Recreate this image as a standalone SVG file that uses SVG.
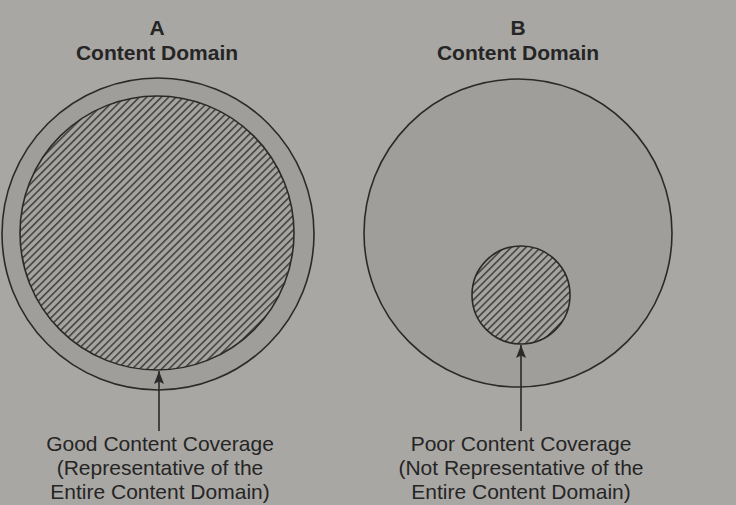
<svg xmlns="http://www.w3.org/2000/svg" width="736" height="505" viewBox="0 0 736 505">
<style>
.t{font-family:"Liberation Sans",Arial,sans-serif;fill:#252525;text-anchor:middle}
.h{font-size:21px;font-weight:bold}
.l{font-size:21px}
.c{stroke:#2a2a2a;stroke-width:1.6}
.a{stroke:#2a2a2a;stroke-width:1.6;fill:none}
</style>
<defs>
<pattern id="hatch" width="5.2" height="5.2" patternUnits="userSpaceOnUse" patternTransform="rotate(45)">
<rect width="5.2" height="5.2" fill="#a6a4a0"/>
<line x1="0.8" y1="0" x2="0.8" y2="5.2" stroke="#2e2e2e" stroke-width="1.3"/>
</pattern>
<marker id="arr" markerWidth="14" markerHeight="10" refX="13" refY="5" orient="auto" markerUnits="userSpaceOnUse" viewBox="0 0 14 10">
<path d="M13,5 L0,0 L2.5,5 L0,10 Z" fill="#2a2a2a"/>
</marker>
</defs>
<rect width="736" height="505" fill="#a9a7a3"/>
<g id="nodeA">
<text class="t h" x="157" y="35">A</text>
<text class="t h" x="157" y="60">Content Domain</text>
<circle class="c" cx="158" cy="234" r="156" fill="#a09e9a"/>
<circle class="c" cx="157" cy="233" r="137" fill="url(#hatch)"/>
</g>
<g id="nodeB">
<text class="t h" x="518" y="35">B</text>
<text class="t h" x="518" y="60">Content Domain</text>
<circle class="c" cx="518" cy="233" r="154" fill="#a09e9a"/>
<circle class="c" cx="521" cy="295" r="49" fill="url(#hatch)"/>
</g>
<g id="labelA">
<text class="t l" x="160" y="451">Good Content Coverage</text>
<text class="t l" x="160" y="475">(Representative of the</text>
<text class="t l" x="160" y="499">Entire Content Domain)</text>
</g>
<g id="labelB">
<text class="t l" x="521" y="451">Poor Content Coverage</text>
<text class="t l" x="521" y="475">(Not Representative of the</text>
<text class="t l" x="521" y="499">Entire Content Domain)</text>
</g>
<g id="connectors">
<line class="a" x1="159" y1="431" x2="159" y2="371" marker-end="url(#arr)"/>
<line class="a" x1="521" y1="431" x2="521" y2="345" marker-end="url(#arr)"/>
</g>
</svg>
